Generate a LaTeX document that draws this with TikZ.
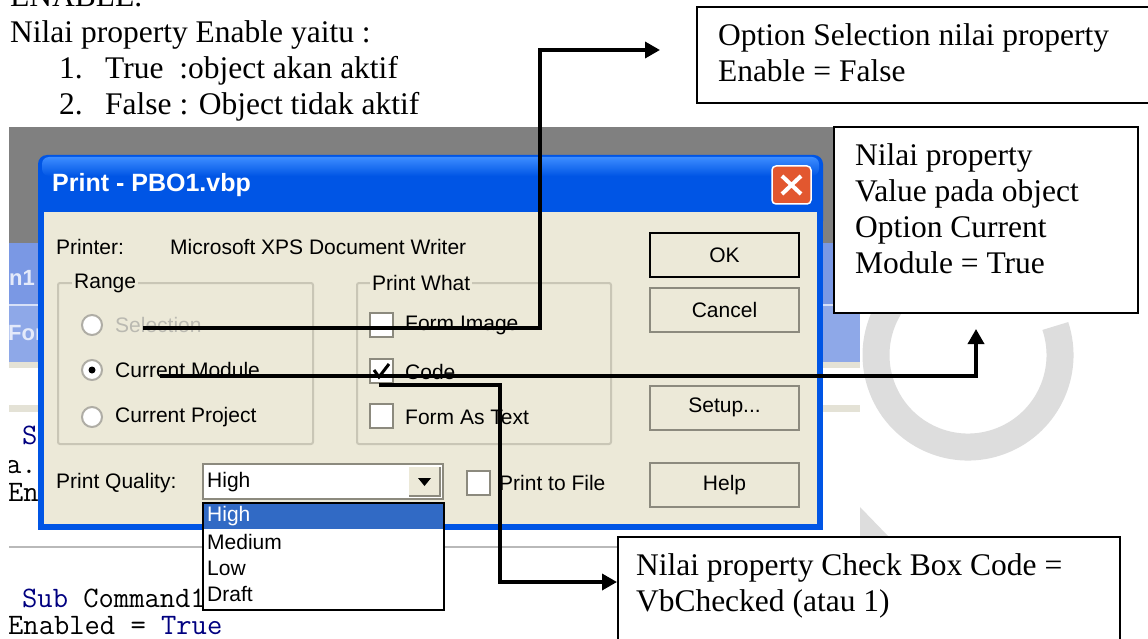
\documentclass[tikz,border=0pt]{standalone}
\usepackage{fontspec}
\setmainfont{Liberation Serif}
\newfontfamily\uifont{Liberation Sans}
\usetikzlibrary{arrows.meta}
\definecolor{xpblue}{HTML}{0055E5}
\definecolor{xptop}{HTML}{3D8DFF}
\definecolor{xpface}{HTML}{ECE9D8}
\definecolor{xpgroup}{HTML}{C9C6B6}
\definecolor{xpshadow}{HTML}{8C8A7E}
\definecolor{xpsel}{HTML}{316AC5}
\definecolor{xpclose}{HTML}{E2572F}
\definecolor{idegray}{HTML}{808080}
\definecolor{ideblue}{HTML}{7A98E4}
\definecolor{idebar}{HTML}{E4E2D6}
\definecolor{codeblue}{HTML}{000080}
\definecolor{wmgray}{HTML}{DDDDDD}

\begin{document}
\begin{tikzpicture}[x=1pt,y=-1pt,
	doctext/.style={inner sep=0pt,anchor=base west,font=\fontsize{31.5}{36}\selectfont},
	callbox/.style={draw,line width=2pt,fill=white,inner ysep=0pt,inner xsep=21pt,anchor=north west,font=\fontsize{31.5}{36}\selectfont},
	callarrow/.style={line width=3.5pt,-{Triangle[length=15pt,width=16pt]}},
	uitext/.style={inner sep=0pt,anchor=west,font=\uifont\fontsize{21}{24}\selectfont},
	codetext/.style={inner sep=0pt,anchor=base west,font=\ttfamily\fontsize{29.7}{32}\selectfont},
	button/.style={draw=xpshadow,line width=2pt,fill=xpface,minimum width=149pt,minimum height=44pt,font=\uifont\fontsize{21}{24}\selectfont},
	checkbox/.style={draw=xpshadow,line width=2pt,fill=white},
	radio/.style={draw=xpshadow!70,line width=2pt,fill=white},
	groupbox/.style={draw=xpgroup,line width=2pt,rounded corners=2pt}]
	\useasboundingbox (0,0) rectangle (1148,639);
	\fill[white] (0,0) rectangle (1148,639);

	% heading
	\node[doctext] (enable) at (10,7) {ENABLE.};
	\node[doctext] (intro) at (10,43) {Nilai property Enable yaitu :};
	\node[doctext] (num1) at (59,79) {1.};
	\node[doctext] (item1) at (105,79) {True\ \ :object akan aktif};
	\node[doctext] (num2) at (59,115) {2.};
	\node[doctext] (item2) at (105,115) {False : Object tidak aktif};

	% watermark
	\fill[wmgray] (860,507) -- (888,536) -- (860,536) -- cycle;
	\draw[wmgray,line width=27pt] (1055.3,326) arc[start angle=-18.4,end angle=240,radius=92];

	% IDE behind the dialog
	\begin{scope}
		\clip (9,127) rectangle (860,639);
		\fill[idegray] (9,127) rectangle (860,243);
		\fill[ideblue] (9,243) rectangle (860,305);
		\fill[ideblue!85!white] (9,305) rectangle (860,362);
		\draw[white!70!ideblue,line width=1.5pt] (9,305) -- (860,305);
		\fill[idebar] (9,362) rectangle (860,368);
		\fill[white] (9,368) rectangle (860,639);
		\fill[idebar] (9,405) rectangle (860,412);
		\draw[gray!55,line width=2pt] (9,547) -- (860,547);
		\node[uitext,anchor=east,text=white!80!ideblue,font=\uifont\bfseries\fontsize{22}{24}\selectfont] (formname) at (35,278) {n1};
		\node[uitext,text=white!80!ideblue,font=\uifont\bfseries\fontsize{22}{24}\selectfont] (formtab) at (8,333) {For};
		\node[codetext,text=codeblue] (codesub) at (22,444) {S};
		\node[codetext] (codeline) at (6,473) {a.};
		\node[codetext] (codeen) at (8,501) {En};
		\node[codetext] (codecmd) at (22,607) {\textcolor{codeblue}{Sub} Command1};
		\node[codetext] (codeenable) at (8,634) {Enabled = \textcolor{codeblue}{True}};
	\end{scope}

	% dialog frame
	\fill[xpblue,rounded corners=9pt] (38,155) rectangle (823,230);
	\fill[xpblue] (38,200) rectangle (823,530);
	\shade[top color=xptop,bottom color=xpblue,rounded corners=7pt] (42,157) rectangle (819,176);
	\fill[xpface] (44,212) rectangle (817,524);
	\node[anchor=west,inner sep=0pt,text=white,font=\uifont\bfseries\fontsize{25}{28}\selectfont] (dlgtitle) at (52,185) {Print - PBO1.vbp};
	\draw[white,line width=1.5pt,fill=xpclose,rounded corners=4pt] (772,166) rectangle (811,204);
	\draw[white,line width=4pt] (782,176) -- (801,194) (801,176) -- (782,194);

	% printer and groups
	\node[uitext] (printerlbl) at (56,247) {Printer:};
	\node[uitext] (printername) at (170,247) {Microsoft XPS Document Writer};
	\draw[groupbox] (58,283) rectangle (313,444);
	\node[uitext,fill=xpface,inner xsep=2pt] (rangelbl) at (72,283) {Range};
	\draw[groupbox] (357,283) rectangle (611,444);
	\node[uitext,fill=xpface,inner xsep=2pt] (whatlbl) at (370,283) {Print What};

	% range options
	\draw[radio] (92,325) circle (10pt);
	\draw[radio] (92,370) circle (10pt);
	\fill (92,370) circle (3.5pt);
	\draw[radio] (92,417) circle (10pt);
	\node[uitext,text=xpshadow!60] (optsel) at (115,325) {Selection};
	\node[uitext] (optmod) at (115,370) {Current Module};
	\node[uitext] (optproj) at (115,417) {Current Project};

	% print what options
	\draw[checkbox] (370,313) rectangle (393,337);
	\draw[checkbox] (370,359) rectangle (393,383);
	\draw[line width=3pt] (374,370) -- (379,377) -- (389,364);
	\draw[checkbox] (370,404) rectangle (393,428);
	\node[uitext] (chkimg) at (405,325) {Form Image};
	\node[uitext] (chkcode) at (405,372) {Code};
	\node[uitext] (chktext) at (405,417) {Form As Text};

	% buttons
	\node[button,draw=black,line width=2.5pt] (okbtn) at (724.5,255) {OK};
	\node[button] (cancelbtn) at (724.5,309.5) {Cancel};
	\node[button] (setupbtn) at (724.5,407.5) {Setup...};
	\node[button] (helpbtn) at (724.5,485) {Help};

	% print quality
	\node[uitext] (qualitylbl) at (56,483) {Print Quality:};
	\draw[checkbox] (203,464) rectangle (443,499);
	\node[uitext] (qualityval) at (207,482) {High};
	\fill[xpface] (409,467) rectangle (440,496);
	\draw[xpshadow,line width=1.5pt] (409,496) -- (440,496) -- (440,467);
	\fill (418,478) -- (431,478) -- (424.5,486) -- cycle;
	\draw[checkbox] (467,471) rectangle (490,495);
	\node[uitext] (tofile) at (499,483) {Print to File};

	% drop down list
	\draw[fill=white,line width=1.5pt] (203,503) rectangle (444,610);
	\fill[xpsel] (204,504) rectangle (443,529);
	\node[uitext,text=white] (lsthigh) at (207,516) {High};
	\node[uitext] (lstmed) at (207,542) {Medium};
	\node[uitext] (lstlow) at (207,568) {Low};
	\node[uitext] (lstdraft) at (207,594) {Draft};

	% callouts
	\node[callbox] (boxsel) at (696,6) {\parbox[c][96pt][t]{422pt}{\rule{0pt}{39pt}Option Selection nilai property\\Enable = False}};
	\node[callbox] (boxmod) at (833,126) {\parbox[c][186pt][t]{262pt}{\rule{0pt}{38pt}Nilai property\\Value pada object\\Option Current\\Module = True}};
	\node[callbox,inner xsep=18pt] (boxcode) at (617,536) {\parbox[c][120pt][t]{466pt}{\rule{0pt}{38pt}Nilai property Check Box Code =\\VbChecked (atau 1)}};

	\coordinate (selfrom) at (143,328);
	\coordinate (selto) at (660,50);
	\coordinate (modfrom) at (160,376);
	\coordinate (modto) at (976,329);
	\coordinate (codefrom) at (379,385);
	\coordinate (codeto) at (617,582);
	\draw[callarrow] (selfrom) -| (540,50) -- (selto);
	\draw[callarrow] (modfrom) -| (modto);
	\draw[callarrow] (codefrom) -| (500,582) -- (codeto);
\end{tikzpicture}
\end{document}
